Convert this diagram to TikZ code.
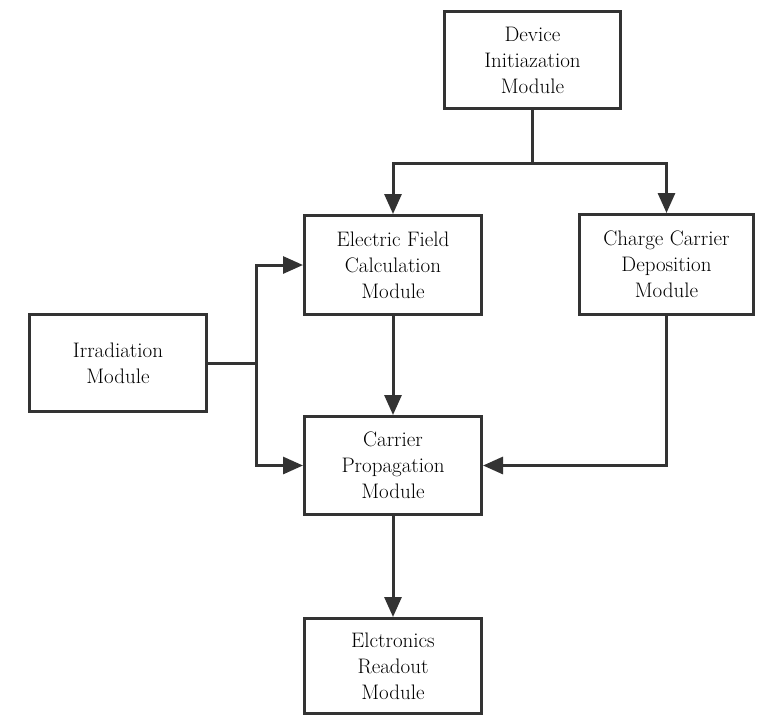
\documentclass[tikz,border=0pt]{standalone}
\usetikzlibrary{arrows.meta}
\definecolor{ln}{HTML}{333333}
\tikzset{
  box/.style={draw=ln, line width=3pt, rectangle, align=center, inner sep=0pt,
    font=\fontsize{21}{26}\selectfont, text=black},
  arr/.style={draw=ln, line width=3pt, line join=miter,
    -{Triangle[length=20pt,width=17pt]}},
  ln/.style={draw=ln, line width=3pt, line join=miter}
}
\begin{document}
\begin{tikzpicture}[x=1pt,y=-1pt]
\useasboundingbox (0,0) rectangle (761,716);
\node[box, minimum width=176pt, minimum height=97pt] (dev) at (532.5,60) {Device\\Initiazation\\Module};
\node[box, minimum width=177pt, minimum height=99pt] (ef) at (393,265) {Electric Field\\Calculation\\Module};
\node[box, minimum width=174pt, minimum height=100pt] (cc) at (666.5,264.5) {Charge Carrier\\Deposition\\Module};
\node[box, minimum width=177pt, minimum height=97pt] (irr) at (118,363) {Irradiation\\Module};
\node[box, minimum width=177pt, minimum height=98pt] (cp) at (393,465.5) {Carrier\\Propagation\\Module};
\node[box, minimum width=177pt, minimum height=95pt] (er) at (393,666) {Elctronics\\Readout\\Module};
\coordinate (j1) at (532.5,163);
\coordinate (j2) at (256,363);
\draw[ln] (dev.south) -- (j1);
\draw[arr] (j1) -| (ef.north);
\draw[arr] (j1) -| (cc.north);
\draw[ln] (irr.east) -- (j2);
\draw[arr] (j2) |- (ef.west);
\draw[arr] (j2) |- (cp.west);
\draw[arr] (ef.south) -- (cp.north);
\draw[arr] (cc.south) |- (cp.east);
\draw[arr] (cp.south) -- (er.north);
\end{tikzpicture}
\end{document}
